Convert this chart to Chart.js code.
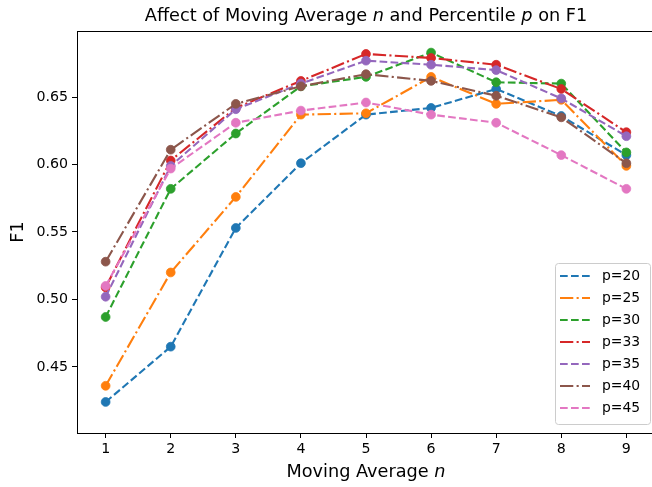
<!DOCTYPE html>
<html>
<head>
<meta charset="utf-8">
<script src="https://cdn.jsdelivr.net/npm/chart.js@4.4.0/dist/chart.umd.min.js"></script>
<style>
  html, body { margin: 0; padding: 0; background: #fff; overflow: hidden; }
</style>
</head>
<body>
<canvas id="grafico_f1" width="662" height="487"></canvas>
<script>
  // dados
  const movingAverage = [1, 2, 3, 4, 5, 6, 7, 8, 9];
  const rotulos = ['p=20', 'p=25', 'p=30', 'p=33', 'p=35', 'p=40', 'p=45'];
  const f1_p20 = [0.424, 0.465, 0.553, 0.601, 0.637, 0.642, 0.656, 0.636, 0.607];
  const f1_p25 = [0.436, 0.520, 0.576, 0.637, 0.638, 0.665, 0.645, 0.648, 0.599];
  const f1_p30 = [0.487, 0.582, 0.623, 0.658, 0.665, 0.683, 0.661, 0.660, 0.609];
  const f1_p33 = [0.509, 0.603, 0.642, 0.662, 0.682, 0.679, 0.674, 0.656, 0.624];
  const f1_p35 = [0.502, 0.599, 0.641, 0.660, 0.677, 0.674, 0.670, 0.649, 0.621];
  const f1_p40 = [0.528, 0.611, 0.645, 0.658, 0.667, 0.662, 0.651, 0.635, 0.601];
  const f1_p45 = [0.510, 0.597, 0.631, 0.640, 0.646, 0.637, 0.631, 0.607, 0.582];
  const ticksY = [0.45, 0.50, 0.55, 0.60, 0.65];

  const series = [f1_p20, f1_p25, f1_p30, f1_p33, f1_p35, f1_p40, f1_p45];
  const cores = ['#1f77b4', '#ff7f0e', '#2ca02c', '#d62728', '#9467bd', '#8c564b', '#e377c2'];
  const tracejado = [7.7, 3.3];
  const tracoPonto = [13.3, 3.3, 2.1, 3.3];
  const estilos = [tracejado, tracoPonto, tracejado, tracoPonto, tracejado, tracoPonto, tracejado];

  const fonte = '"DejaVu Sans", sans-serif';

  // Criando datasets
  let datasets = [];
  for (let i = 0; i < series.length; i++) {
    datasets.push({
      label: rotulos[i],
      data: movingAverage.map((n, j) => ({ x: n, y: series[i][j] })),
      borderColor: cores[i],
      backgroundColor: cores[i],
      borderWidth: 2.1,
      borderDash: estilos[i],
      borderJoinStyle: 'round',
      pointRadius: 4.4,
      pointBorderWidth: 0.8,
      pointBackgroundColor: cores[i],
      pointBorderColor: cores[i],
      tension: 0,
      fill: false,
      order: series.length - 1 - i
    });
  }

  // escreve texto com partes em italico (como o mathtext)
  function textoMisto(ctx, partes, cx, cy, tamanho) {
    let total = 0;
    const larguras = partes.map(p => {
      ctx.font = (p[1] ? 'italic ' : '') + tamanho + 'px ' + fonte;
      const w = ctx.measureText(p[0]).width;
      total += w;
      return w;
    });
    let x = cx - total / 2;
    ctx.textAlign = 'left';
    ctx.textBaseline = 'middle';
    partes.forEach((p, k) => {
      ctx.font = (p[1] ? 'italic ' : '') + tamanho + 'px ' + fonte;
      ctx.fillText(p[0], x, cy);
      x += larguras[k];
    });
  }

  const extras = {
    id: 'extras',
    afterDraw(chart) {
      const ctx = chart.ctx;
      const a = chart.chartArea;
      ctx.save();

      // moldura
      ctx.strokeStyle = '#000';
      ctx.lineWidth = 1;
      ctx.setLineDash([]);
      ctx.strokeRect(a.left + 0.5, a.top + 0.5, a.right - a.left, a.bottom - a.top);

      ctx.fillStyle = '#000';
      // titulo
      textoMisto(ctx, [['Affect of Moving Average ', false], ['n', true], [' and Percentile ', false], ['p', true], [' on F1', false]],
        (a.left + a.right) / 2, 16, 17.7);
      // eixo x
      textoMisto(ctx, [['Moving Average ', false], ['n', true]], (a.left + a.right) / 2, a.bottom + 39, 17.7);
      // eixo y
      ctx.save();
      ctx.translate(18, (a.top + a.bottom) / 2);
      ctx.rotate(-Math.PI / 2);
      textoMisto(ctx, [['F1', false]], 0, 0, 17.7);
      ctx.restore();

      // legenda
      const lx = a.right - 100, ly = a.bottom - 170, lw = 95, lh = 161;
      ctx.beginPath();
      ctx.roundRect(lx + 0.5, ly + 0.5, lw, lh, 3);
      ctx.fillStyle = 'rgba(255,255,255,0.8)';
      ctx.fill();
      ctx.strokeStyle = '#cccccc';
      ctx.lineWidth = 1;
      ctx.stroke();
      for (let i = 0; i < rotulos.length; i++) {
        const yy = ly + 13 + i * 22;
        ctx.beginPath();
        ctx.setLineDash(estilos[i]);
        ctx.strokeStyle = cores[i];
        ctx.lineWidth = 2.1;
        ctx.moveTo(lx + 5, yy);
        ctx.lineTo(lx + 35, yy);
        ctx.stroke();
        ctx.setLineDash([]);
        ctx.fillStyle = '#000';
        ctx.font = '13.9px ' + fonte;
        ctx.textAlign = 'left';
        ctx.textBaseline = 'middle';
        ctx.fillText(rotulos[i], lx + 47, yy);
      }
      ctx.restore();
    }
  };

  const config = {
    type: 'line',
    data: { datasets: datasets },
    options: {
      responsive: false,
      animation: false,
      devicePixelRatio: 1,
      layout: { padding: { top: 31, right: 7, left: 0, bottom: 0 } },
      plugins: {
        legend: { display: false },
        title: { display: false },
        tooltip: { enabled: false }
      },
      scales: {
        x: {
          type: 'linear',
          min: 0.56,
          max: 9.44,
          afterBuildTicks: s => { s.ticks = movingAverage.map(v => ({ value: v })); },
          afterFit: s => { s.height = 54; },
          grid: { drawOnChartArea: false, drawTicks: true, tickLength: 5, color: '#000', lineWidth: 1 },
          border: { display: false },
          ticks: { color: '#000', font: { family: fonte, size: 14.2 }, padding: 3, maxRotation: 0 }
        },
        y: {
          type: 'linear',
          min: 0.401,
          max: 0.699,
          afterBuildTicks: s => { s.ticks = ticksY.map(v => ({ value: v })); },
          afterFit: s => { s.width = 77; },
          grid: { drawOnChartArea: false, drawTicks: true, tickLength: 5, color: '#000', lineWidth: 1 },
          border: { display: false },
          ticks: { color: '#000', font: { family: fonte, size: 14.2 }, padding: 4, callback: v => v.toFixed(2) }
        }
      }
    },
    plugins: [extras]
  };

  let grafico = new Chart(document.getElementById('grafico_f1'), config);
</script>
</body>
</html>
